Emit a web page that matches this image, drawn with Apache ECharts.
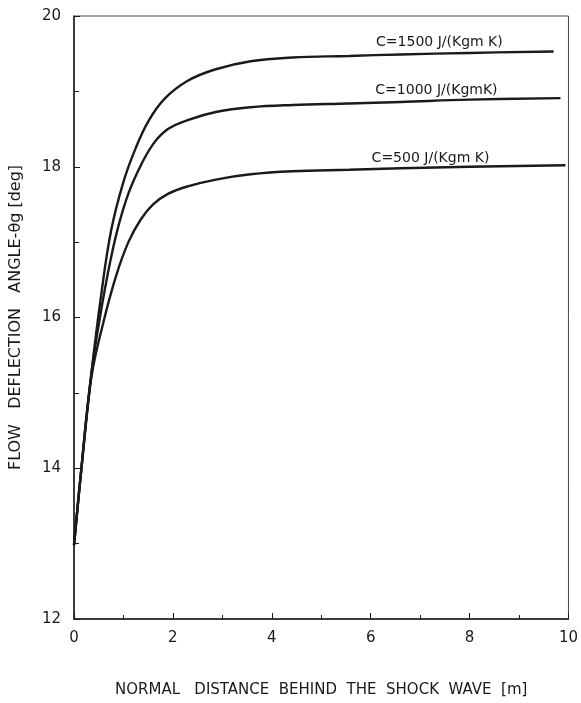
<!DOCTYPE html>
<html>
<head>
<meta charset="utf-8">
<script src="https://cdn.jsdelivr.net/npm/echarts@6/dist/echarts.min.js"></script>
<style>
  html, body { margin: 0; padding: 0; background: #fff; }
  #chart { width: 581px; height: 703px; }
</style>
</head>
<body>
<div id="chart"></div>
<script>
// distance behind the shock wave [m] / flow deflection angle [deg]
const c1500 = [
  [0, 12.98], [0.15, 14.0], [0.35, 15.25], [0.55, 16.3], [0.75, 17.15],
  [1.0, 17.8], [1.25, 18.25], [1.5, 18.6], [1.83, 18.9], [2.3, 19.14],
  [2.85, 19.29], [3.57, 19.40], [4.42, 19.45], [5.56, 19.47], [6.61, 19.49],
  [8, 19.51], [9.7, 19.53]
];
const c1000 = [
  [0, 12.98], [0.15, 14.0], [0.35, 15.25], [0.55, 16.1], [0.8, 16.95],
  [1.05, 17.55], [1.3, 17.95], [1.6, 18.3], [1.9, 18.5], [2.3, 18.62],
  [2.89, 18.73], [3.57, 18.79], [4.42, 18.82], [5.56, 18.84], [6.61, 18.86],
  [8, 18.89], [9.84, 18.91]
];
const c500 = [
  [0, 12.98], [0.15, 14.0], [0.35, 15.2], [0.6, 15.95], [0.85, 16.55],
  [1.1, 17.0], [1.35, 17.3], [1.6, 17.5], [1.9, 17.64], [2.3, 17.74],
  [2.87, 17.83], [3.57, 17.9], [4.42, 17.94], [5.56, 17.96], [6.61, 17.98],
  [8, 18.0], [9.94, 18.02]
];
const seriesNames = ['C=1500 J/(Kgm K)', 'C=1000 J/(KgmK)', 'C=500 J/(Kgm K)'];
// where each curve label sits, in data units
const labelAnchors = [[7.39, 19.65], [7.33, 19.02], [7.21, 18.11]];
const xTicks = [0, 2, 4, 6, 8, 10];
const yTicks = [12, 14, 16, 18, 20];

const chart = echarts.init(document.getElementById('chart'), null, { renderer: 'canvas' });

const font = 'DejaVu Sans';
const ink = '#1a1a1a';

function curve(name, data, anchor) {
  return {
    name: name,
    type: 'line',
    data: data,
    smooth: 0.4,
    symbol: 'none',
    lineStyle: { color: ink, width: 2.4 },
    markPoint: {
      symbol: 'circle',
      symbolSize: 0,
      silent: true,
      data: [{ coord: anchor, value: name }],
      label: {
        show: true,
        position: 'inside',
        formatter: name,
        color: ink,
        fontFamily: font,
        fontSize: 14
      }
    }
  };
}

chart.setOption({
  animation: false,
  grid: {
    left: 68, right: 11, top: 16, bottom: 76,
    show: true,
    borderColor: '#444',
    borderWidth: 1
  },
  xAxis: {
    type: 'value',
    min: xTicks[0],
    max: xTicks[xTicks.length - 1],
    interval: 2,
    name: 'NORMAL   DISTANCE  BEHIND  THE  SHOCK  WAVE  [m]',
    nameLocation: 'middle',
    nameGap: 64,
    nameTextStyle: { color: ink, fontFamily: font, fontSize: 15 },
    axisLine: { onZero: false, lineStyle: { color: ink, width: 1.5 } },
    axisTick: { inside: true, length: 6, lineStyle: { color: ink } },
    minorTick: { show: true, splitNumber: 2, length: 4, lineStyle: { color: ink } },
    splitLine: { show: false },
    axisLabel: { color: ink, fontFamily: font, fontSize: 15, margin: 12 }
  },
  yAxis: {
    type: 'value',
    min: yTicks[0],
    max: yTicks[yTicks.length - 1],
    interval: 2,
    name: 'FLOW   DEFLECTION   ANGLE-θg [deg]',
    nameLocation: 'middle',
    nameGap: 50,
    nameTextStyle: { color: ink, fontFamily: font, fontSize: 16 },
    axisLine: { show: true, onZero: false, lineStyle: { color: ink, width: 1.5 } },
    axisTick: { inside: true, length: 6, lineStyle: { color: ink } },
    minorTick: { show: true, splitNumber: 2, length: 5, lineStyle: { color: ink } },
    splitLine: { show: false },
    axisLabel: { color: ink, fontFamily: font, fontSize: 15, margin: 13 }
  },
  series: [
    curve(seriesNames[0], c1500, labelAnchors[0]),
    curve(seriesNames[1], c1000, labelAnchors[1]),
    curve(seriesNames[2], c500, labelAnchors[2])
  ]
});
</script>
</body>
</html>
